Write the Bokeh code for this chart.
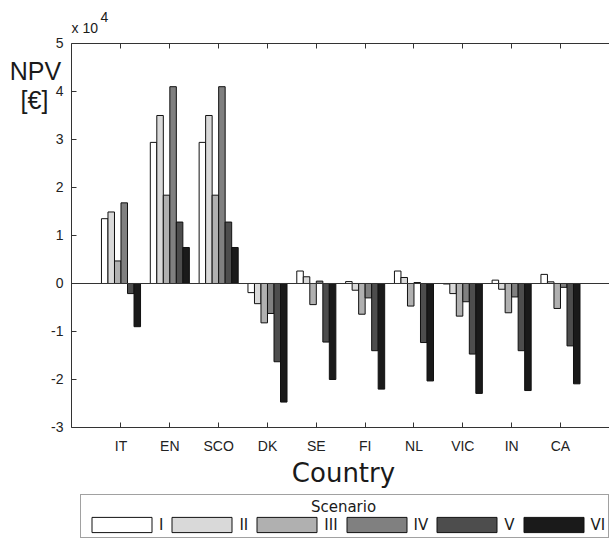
from bokeh.plotting import figure
from bokeh.models import (ColumnDataSource, FixedTicker, LinearAxis, Legend, LegendItem,
                          Label, Range1d)
from bokeh.transform import dodge
from bokeh.embed import file_html
from bokeh.resources import INLINE

# NPV values in units of 10^4 EUR
countries = ["IT", "EN", "SCO", "DK", "SE", "FI", "NL", "VIC", "IN", "CA"]
scenarios = ["I", "II", "III", "IV", "V", "VI"]
npv_I = [1.35, 2.94, 2.94, -0.19, 0.26, 0.04, 0.26, -0.01, 0.07, 0.19]
npv_II = [1.49, 3.50, 3.50, -0.42, 0.14, -0.14, 0.125, -0.21, -0.12, 0.035]
npv_III = [0.47, 1.84, 1.84, -0.82, -0.44, -0.64, -0.47, -0.68, -0.61, -0.52]
npv_IV = [1.68, 4.10, 4.10, -0.625, 0.05, -0.30, 0.02, -0.38, -0.28, -0.08]
npv_V = [-0.21, 1.28, 1.28, -1.63, -1.22, -1.40, -1.23, -1.47, -1.40, -1.30]
npv_VI = [-0.90, 0.75, 0.75, -2.47, -2.00, -2.20, -2.03, -2.29, -2.23, -2.09]
colors = ["#ffffff", "#d9d9d9", "#b0b0b0", "#808080", "#4d4d4d", "#1a1a1a"]
yticks = [-3, -2, -1, 0, 1, 2, 3, 4, 5]

series = [npv_I, npv_II, npv_III, npv_IV, npv_V, npv_VI]
xpos = list(range(1, len(countries) + 1))
data = {"x": xpos}
for s, vals in zip(scenarios, series):
    data[s] = vals
src = ColumnDataSource(data)

W, H = 609, 544
# visible axes box
X_LEFT, X_RIGHT = -0.0137, 11.004
Y_BOT, Y_TOP = -3, 5

p = figure(width=W, height=H, output_backend="svg", toolbar_location=None,
           x_range=Range1d(-1.4677, 11.004), y_range=Range1d(-5.4375, 5.8958),
           min_border_left=0, min_border_right=0, min_border_top=0, min_border_bottom=0,
           x_axis_location=None, y_axis_location=None)
p.outline_line_color = None
p.xgrid.visible = False
p.ygrid.visible = False
p.background_fill_color = "white"
p.border_fill_color = "white"

AX = "#333333"
TF = "Liberation Sans"

def style_axis(ax):
    ax.axis_line_color = AX
    ax.axis_line_width = 1
    ax.major_tick_line_color = AX
    ax.major_tick_in = 5
    ax.major_tick_out = 0
    ax.minor_tick_line_color = None
    ax.major_label_text_font = TF
    ax.major_label_text_color = "#222222"
    ax.major_label_text_font_size = "14px"

xt = FixedTicker(ticks=xpos)
bottom = LinearAxis(ticker=xt, fixed_location=Y_BOT, bounds=(X_LEFT, X_RIGHT))
style_axis(bottom)
bottom.major_label_overrides = {i: c for i, c in zip(xpos, countries)}
bottom.major_label_standoff = 11
p.add_layout(bottom, "below")

top = LinearAxis(ticker=xt, fixed_location=Y_TOP, bounds=(X_LEFT, X_RIGHT))
style_axis(top)
top.major_label_overrides = {i: "" for i in xpos}
top.major_label_standoff = 0
p.add_layout(top, "above")

left = LinearAxis(ticker=FixedTicker(ticks=yticks), fixed_location=X_LEFT, bounds=(Y_BOT, Y_TOP))
style_axis(left)
left.major_label_standoff = 8
left.major_label_overrides = {t: str(t) for t in yticks}
p.add_layout(left, "left")

# zero baseline
zero = LinearAxis(ticker=FixedTicker(ticks=[]), fixed_location=0, bounds=(X_LEFT, X_RIGHT))
zero.axis_line_color = AX
zero.major_tick_line_color = None
zero.minor_tick_line_color = None
p.add_layout(zero, "below")

w = 0.8 / 6
items = []
for k, (s, c) in enumerate(zip(scenarios, colors)):
    off = (k - 2.5) * w
    r = p.vbar(x=dodge("x", off, range=p.x_range), top=s, bottom=0, width=w, source=src,
               fill_color=c, line_color="#111111", line_width=1)
    items.append(LegendItem(label=s, renderers=[r]))

legend = Legend(items=items, orientation="horizontal", location=(80, 6), title=" ",
                title_text_font_size="15px", title_standoff=0,
                label_text_font="DejaVu Sans", label_text_font_size="15px",
                label_text_color="#1a1a1a",
                glyph_width=75, glyph_height=19, label_standoff=0, label_width=0,
                spacing=1, padding=3, margin=0,
                border_line_color="#444444", border_line_width=1,
                background_fill_color="white", background_fill_alpha=0)
p.add_layout(legend, "center")

def lab(text, x, y, size, align="left", font=TF):
    p.add_layout(Label(x=x, y=y, x_units="screen", y_units="screen", text=text,
                       text_align=align, text_baseline="alphabetic", level="overlay",
                       text_font=font, text_font_size=size, text_color="#1a1a1a"))

lab("NPV", 35, 474, "25px", "center")
lab("[€]", 34, 445, "25px", "center")
lab("x 10", 71, 517, "14px")
lab("4", 100, 528, "14px")
lab("Country", 343, 72, "26px", "center", "DejaVu Sans")
lab("Scenario", 343, 38, "15px", "center", "DejaVu Sans")

open("out.html", "w").write(file_html(p, INLINE))
